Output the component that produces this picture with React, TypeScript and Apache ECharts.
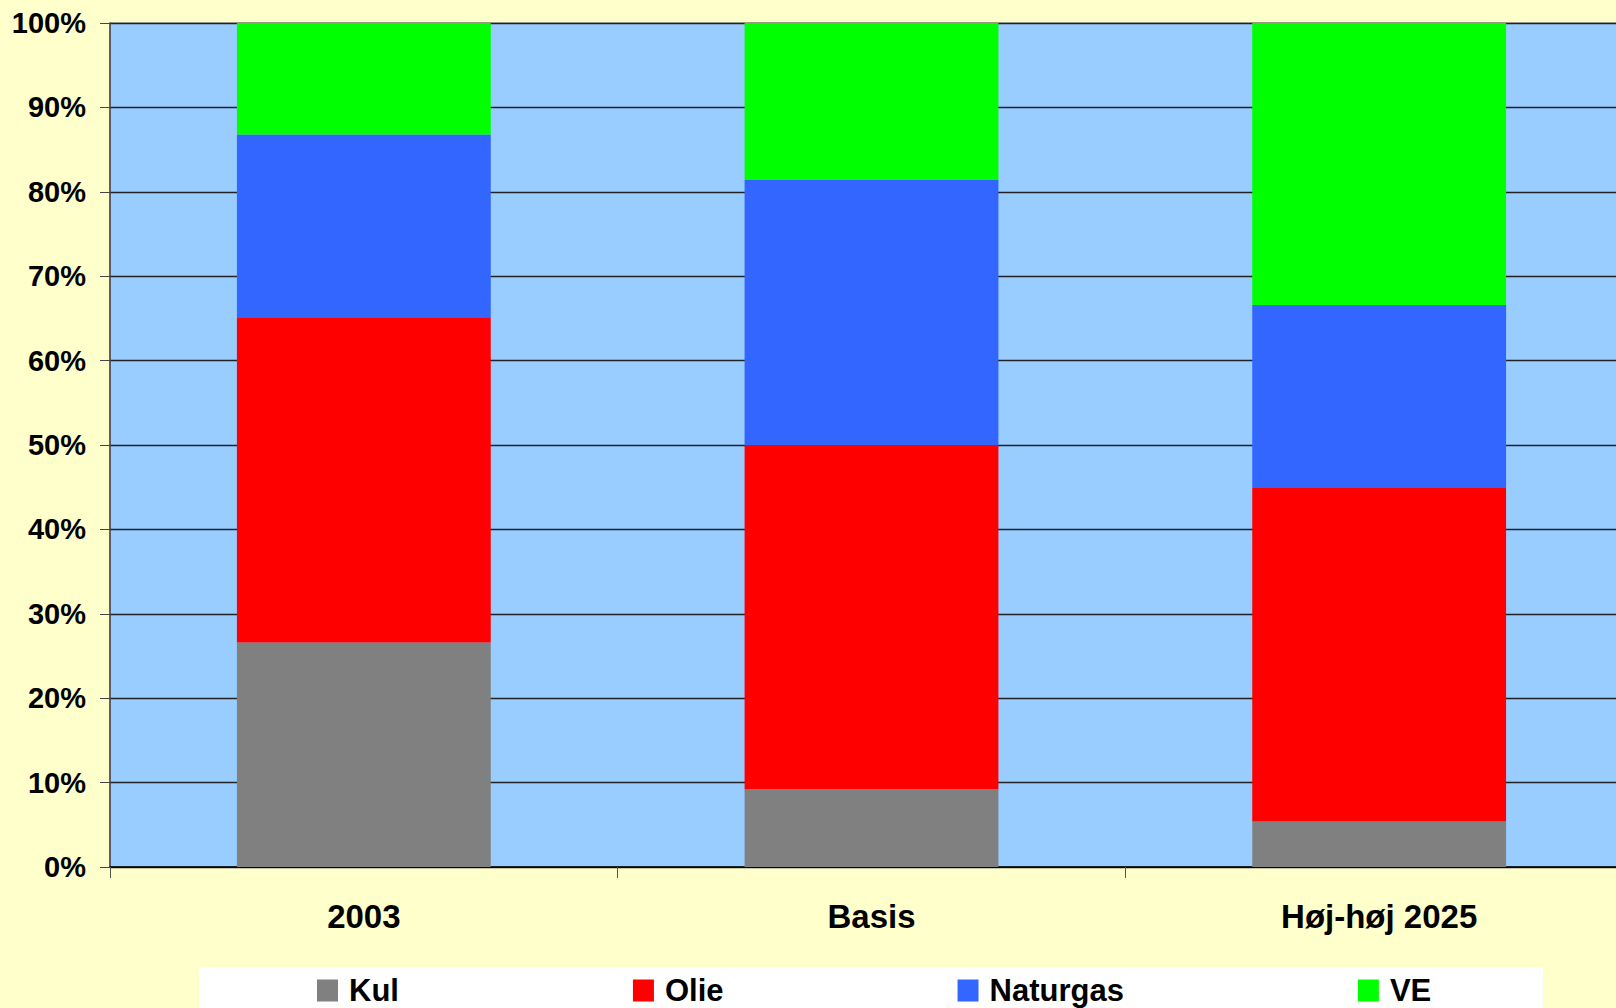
import React, { useEffect, useRef } from "react";
import * as echarts from "echarts";

const categories = ["2003", "Basis", "Høj-høj 2025"];
const seriesNames = ["Kul", "Olie", "Naturgas", "VE"];
const kul = [26.6, 9.2, 5.4];
const olie = [38.45, 40.8, 39.5];
const naturgas = [21.75, 31.4, 21.7];
const ve = [13.2, 18.6, 33.4];
const colors = ["#808080", "#FF0000", "#3366FF", "#00FF00"];

const FONT = "'Liberation Sans', Arial, Helvetica, sans-serif";

export default function App() {
  const ref = useRef<HTMLDivElement>(null);
  useEffect(() => {
    if (!ref.current) return;
    const chart = echarts.init(ref.current, undefined, { renderer: "svg" });
    const values = [kul, olie, naturgas, ve];
    chart.setOption({
      animation: false,
      backgroundColor: "#FFFFCC",
      color: colors,
      graphic: [
        {
          type: "rect",
          z: 0,
          shape: { x: 199, y: 967, width: 1344, height: 60 },
          style: { fill: "#FFFFFF" },
        },
      ],
      legend: {
        left: 317,
        top: 975,
        itemWidth: 21,
        itemHeight: 22,
        itemGap: 234,
        icon: "rect",
        padding: 0,
        data: seriesNames,
        textStyle: {
          fontFamily: FONT,
          fontWeight: "bold",
          fontSize: 31,
          color: "#000",
          padding: [0, 0, 0, 6],
        },
      },
      grid: {
        left: 110,
        right: 0,
        top: 23,
        bottom: 141,
        show: true,
        backgroundColor: "#99CCFF",
        borderColor: "#808080",
        borderWidth: 1,
      },
      xAxis: {
        type: "category",
        data: categories,
        boundaryGap: true,
        axisLine: { show: true, lineStyle: { color: "#000", width: 1.5 } },
        axisTick: {
          show: true,
          inside: false,
          length: 11,
          alignWithLabel: false,
          lineStyle: { color: "#555", width: 1 },
        },
        axisLabel: {
          margin: 33,
          fontFamily: FONT,
          fontWeight: "bold",
          fontSize: 33,
          color: "#000",
        },
        splitLine: { show: false },
      },
      yAxis: {
        type: "value",
        min: 0,
        max: 100,
        interval: 10,
        axisLine: { show: true, lineStyle: { color: "#444", width: 1.5 } },
        axisTick: {
          show: true,
          inside: false,
          length: 10,
          lineStyle: { color: "#444", width: 1 },
        },
        axisLabel: {
          margin: 24,
          formatter: "{value}%",
          fontFamily: FONT,
          fontWeight: "bold",
          fontSize: 29,
          color: "#000",
        },
        splitLine: { show: true, lineStyle: { color: "#222", width: 1.3 } },
      },
      series: seriesNames.map((name, i) => ({
        name,
        type: "bar",
        stack: "total",
        barWidth: "50%",
        data: values[i],
        itemStyle: { color: colors[i] },
      })),
    });
    return () => chart.dispose();
  }, []);
  return (
    <div
      style={{
        position: "fixed",
        left: 0,
        top: 0,
        width: 1616,
        height: 1008,
        overflow: "hidden",
        background: "#FFFFCC",
      }}
    >
      <div ref={ref} style={{ width: 1633, height: 1008 }} />
    </div>
  );
}
